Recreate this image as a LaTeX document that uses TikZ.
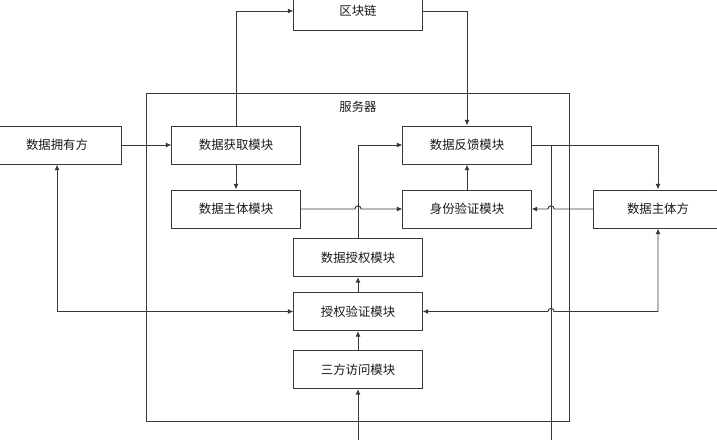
\documentclass[tikz,border=0pt]{standalone}
\usepackage{fontspec}
\setmainfont{Noto Sans CJK SC}
\usetikzlibrary{arrows.meta}

\tikzset{
  box/.style={draw=black!78, line width=0.7pt, minimum width=3.2cm, minimum height=0.95cm, inner sep=0pt, text=black!90},
  line/.style={draw=black!78, line width=0.7pt},
  arr/.style={line, -{Latex[length=4pt,width=3.5pt]}},
  twoway/.style={line, {Latex[length=4pt,width=3.5pt]}-{Latex[length=4pt,width=3.5pt]}},
  hop/.style={start angle=#1, end angle=180-#1, radius=2.2pt}
}

\begin{document}
\begin{tikzpicture}[x=0.025cm, y=-0.025cm, font=\fontsize{8.8}{10}\selectfont]

\clip (0,0) rectangle (717,440);

\node[box, minimum width=10.55cm, minimum height=8.175cm] (server) at (358,257.5) {};
\node[text=black!90] (serverlabel) at (358,107) {服务器};

\node[box] (chain) at (358,11) {区块链};
\node[box] (owner) at (57,145) {数据拥有方};
\node[box] (fetch) at (236,145) {数据获取模块};
\node[box] (subjmod) at (236,209) {数据主体模块};
\node[box] (feedback) at (467,145) {数据反馈模块};
\node[box] (ident) at (467,209) {身份验证模块};
\node[box] (subject) at (658,209) {数据主体方};
\node[box] (grant) at (358,257.5) {数据授权模块};
\node[box] (verify) at (358,311.5) {授权验证模块};
\node[box] (access) at (358,369.5) {三方访问模块};

\coordinate (inend) at (358,445);
\coordinate (outend) at (551,445);
\coordinate (hopa) at (grant.north |- subjmod.east);
\coordinate (hopb) at (outend |- subject.west);
\coordinate (hopc) at (outend |- verify.east);

\draw[arr] (owner.east) -- (fetch.west);
\draw[arr] (fetch.north) |- (chain.west);
\draw[arr] (chain.east) -| (feedback.north);
\draw[arr] (fetch.south) -- (subjmod.north);
\draw[arr] (subjmod.east) -- ([xshift=-2.2pt]hopa) arc[hop=180] -- (ident.west);
\draw[arr] (grant.north) |- (feedback.west);
\draw[arr] (ident.north) -- (feedback.south);
\draw[arr] (subject.west) -- ([xshift=2.2pt]hopb) arc[hop=0] -- (ident.east);
\draw[arr] (feedback.east) -| (subject.north);
\draw[line] (feedback.east -| outend) -- (outend);
\draw[twoway] (subject.south) |- ([xshift=2.2pt]hopc) arc[hop=0] -- (verify.east);
\draw[twoway] (owner.south) |- (verify.west);
\draw[arr] (verify.north) -- (grant.south);
\draw[arr] (access.north) -- (verify.south);
\draw[arr] (inend) -- (access.south);

\end{tikzpicture}
\end{document}
